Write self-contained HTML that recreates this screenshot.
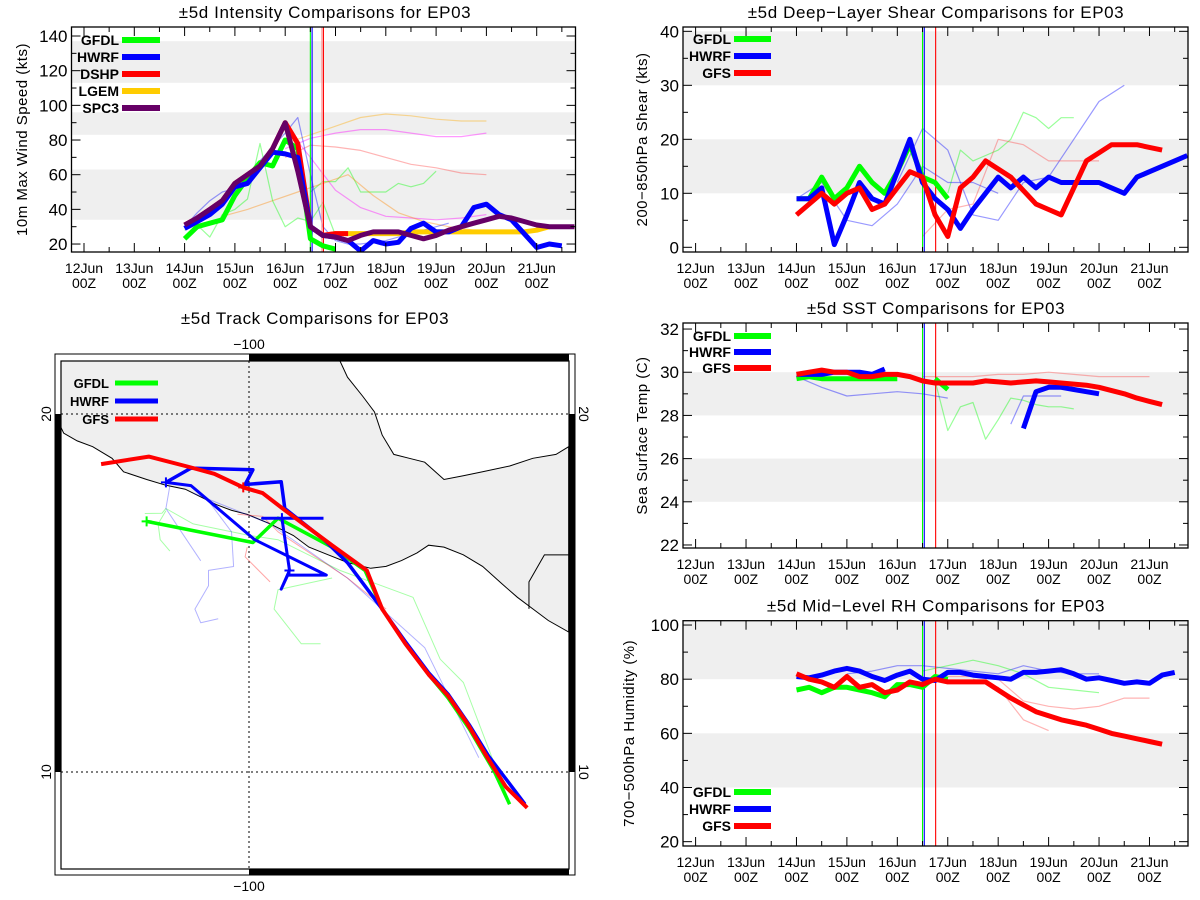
<!DOCTYPE html>
<html><head><meta charset="utf-8">
<style>
html,body{margin:0;padding:0;background:#fff;}
svg{display:block;font-family:"Liberation Sans",sans-serif;}
</style></head>
<body>
<svg id="fig" width="1200" height="900" viewBox="0 0 1200 900" xmlns="http://www.w3.org/2000/svg">
<rect x="0" y="0" width="1200" height="900" fill="#fff"/>
</svg>
<script>
// ---------- shared categories ----------
const dayLabels = ["12Jun","13Jun","14Jun","15Jun","16Jun","17Jun","18Jun","19Jun","20Jun","21Jun"];
const hourLabel = "00Z";
const initTimes = [4.5, 4.535, 4.76]; // GFDL, HWRF, GFS/DSHP init lines (days from 12Jun00Z)

// ---------- Intensity ----------
const intTicks = [20,40,60,80,100,120,140];
const intBands = [[34,63],[83,96],[113,137]];
const intGfdlStart = 2.0;
const intGfdl = [23,30,32,34,48,58,67,65,80,75,23,19,17];
const intHwrfStart = 2.0;
const intHwrf = [29,33,37,43,53,55,64,73,72,70,30,25,24,22,16,22,20,21,29,32,27,27,30,41,43,37,34,26,18,20,19];
const intDshpStart = 2.0;
const intDshp = [31,35,40,45,55,60,65,75,90,78,30,25,26,26];
const intLgemStart = 4.75;
const intLgem = [25,26,26,26,26,26,26,27,27,27,27,27,27,27,27,27,27,28,30];
const intSpc3Start = 2.0;
const intSpc3 = [31,35,40,45,55,60,65,75,90,62,30,25,24,22,25,27,27,27,25,23,25,28,30,32,34,36,35,33,31,30,30,30];
const intThinMagA = [75,81,84,86,86,84,82,82,84];
const intThinYelA = [78,83,88,93,95,94,92,91,91];
const intThinPinkA = [70,77,76,74,70,66,64,61,60];
const intThinMagB = [88,70,51,41,36,35,34,35,37];
const intThinGreenA = [50,56,56,64,50,50,50,55,53,55,62];
const intThinOrangeA = [36,40,45,50,55,60,48,38,33,30,28,27];
const intThinBlueA = [30,38,45,50,52,60,68,76,84,93,60,30,22,20,20,21,22,24,26,28,30,32];
const intThinGreenB = [28,31,24,37,40,46,78,45,30,35,33,44,25];

// ---------- Shear ----------
const shrTicks = [0,10,20,30,40];
const shrBands = [[10,20],[30,40]];
const shrGfdl = [9,9,13,9,11,15,12,10,14,19,13,12,9];
const shrHwrf = [9,9,11,0.5,6,12,9,8,14,20,12,9,7,3.5,7,10,13,11,13,11,13,12,12,12,12,11,10,13,14,15,16,17];
const shrGfs = [6,8,10,8,10,11,7,8,11,14,13,6,2,11,13,16,14.5,13,10.5,8,7,6,11,16,17.5,19,19,19,18.5,18];
const shrThinBlueA = [12,22,18,6,5,12,13,20,27,30];
const shrThinGreenA = [10,18,16,17,18,20,25,24,22,24,24];
const shrThinPinkA = [2,7,8,20,19,16,16,16];
const shrThinBlueB = [9,12,5,4,8,15,12,12,10];

// ---------- SST ----------
const sstTicks = [22,24,26,28,30,32];
const sstBands = [[28,30],[24,26]];
const sstGfdl = [29.7,29.8,29.7,29.7,29.7,29.7,29.7,29.7,29.7];
const sstGfdl2 = [29.7,29.2];
const sstHwrf = [29.9,29.9,29.9,30.0,30.0,30.0,29.9,30.15];
const sstHwrf2 = [27.4,29.1,29.3,29.3,29.2,29.1,29.0];
const sstGfs = [29.9,30.0,30.1,30.0,30.0,29.8,29.8,29.9,29.9,29.8,29.6,29.5,29.5,29.5,29.5,29.6,29.55,29.5,29.55,29.6,29.55,29.5,29.45,29.4,29.3,29.15,29.0,28.8,28.65,28.5];
const sstThinGreenA = [29.6,27.3,28.4,28.6,26.9,27.8,28.8,28.7,28.5,28.4,28.4,28.3];
const sstThinBlueA = [29.8,29.3,28.9,29.0,29.1,29.0,28.8];
const sstThinBlueB = [27.6,28.9,28.9,28.9,28.9];
const sstThinPinkA = [29.8,29.8,29.8,29.9,29.9,30.0,29.9,29.8,29.8,29.8];

// ---------- RH ----------
const rhTicks = [20,40,60,80,100];
const rhBands = [[80,102],[40,60]];
const rhGfdl = [76,77,75,77,77,76,75,73.5,78,78,77,81,80];
const rhHwrf = [81,80.5,81.5,83,84,83,81,79.5,81.5,83,80,79.5,82.5,82.5,81.5,81,80.5,80,82.5,82.5,83,83.5,82,80,80.5,79.5,78.5,79,78.5,81.5,82.5];
const rhGfs = [82,80,79,77,81,77,78,75,76,79,78,80,79,79,79,79,76,73,70.5,68,66.5,65,64,63,61.5,60,59,58,57,56];
const rhThinPinkA = [81,81,80,72,70,69,70,73,73];
const rhThinPinkB = [80,77,65,61];
const rhThinBlueA = [82,83,85,85,84,83,82,85,83,82,82];
const rhThinGreenA = [83,85,87,85,82,77,76,75];

// ---------- Track (lon, lat) ----------
const trkGfsLon = [-104.13,-102.80,-101.67,-100.97,-100.16,-99.62,-98.98,-97.68,-96.71,-96.28,-95.63,-94.98,-94.44,-93.91,-93.37,-92.83,-92.23];
const trkGfsLat = [18.60,18.81,18.52,18.33,17.95,17.79,17.30,16.33,15.63,14.55,13.58,12.72,12.13,11.37,10.45,9.59,9.00];
const trkHwrfLon = [-102.32,-101.62,-99.89,-100.11,-99.10,-99.00,-97.90,-97.25,-96.28,-95.63,-94.98,-94.44,-93.85,-93.31,-92.29];
const trkHwrfLat = [18.09,18.49,18.44,18.03,18.11,17.36,16.49,15.85,14.55,13.64,12.77,12.18,11.32,10.45,9.10];
const trkHwrf2Lon = [-102.32,-101.62,-99.84,-97.84,-98.92,-99.10,-98.87,-99.08,-99.62,-97.92];
const trkHwrf2Lat = [18.09,18.00,16.49,15.50,15.50,15.11,15.63,17.09,17.09,17.09];
const trkGfdlLon = [-102.86,-99.89,-99.19,-97.68,-96.76,-96.28,-95.63,-94.98,-94.44,-93.85,-93.15,-92.72];
const trkGfdlLat = [17.00,16.41,17.09,16.28,15.63,14.55,13.58,12.72,12.07,11.21,10.02,9.10];
const trkThinGreen1Lon = [-102.91,-102.43,-102.32,-101.56,-99.95,-99.19,-97.46,-95.42,-94.66,-94.01,-93.15,-92.72];
const trkThinGreen1Lat = [17.22,17.23,17.36,16.93,16.60,16.49,15.63,14.88,13.15,12.50,10.24,9.16];
const trkThinGreen2Lon = [-97.68,-99.19,-99.30,-98.54,-98.00];
const trkThinGreen2Lat = [15.42,15.09,14.55,13.58,13.58];
const trkThinGreen3Lon = [-102.32,-102.54,-102.48,-102.21];
const trkThinGreen3Lat = [17.30,16.93,16.49,16.17];
const trkThinBlue1Lon = [-102.21,-102.32,-101.89,-101.35];
const trkThinBlue1Lat = [18.00,17.36,16.71,15.90];
const trkThinBlue2Lon = [-101.13,-100.49,-100.43,-101.13,-101.13,-101.51,-101.35,-100.86];
const trkThinBlue2Lat = [17.57,16.71,15.74,15.63,15.20,14.55,14.17,14.28];
const trkThinBlue3Lon = [-101.56,-99.41,-97.25,-95.09,-93.58];
const trkThinBlue3Lat = [17.79,16.93,15.42,13.47,10.40];
const trkThinPink1Lon = [-100.32,-99.62,-99.19,-97.25,-96.17];
const trkThinPink1Lat = [17.20,17.14,16.71,15.42,14.55];
const trkThinPink2Lon = [-100.05,-100.11,-99.41];
const trkThinPink2Lat = [16.28,16.01,15.31];

// ================= drawing =================
const NS = "http://www.w3.org/2000/svg";
const svg = document.getElementById('fig');
function mk(tag, attrs, parent){
  const e = document.createElementNS(NS, tag);
  for (const k in attrs) e.setAttribute(k, attrs[k]);
  (parent||svg).appendChild(e);
  return e;
}
function txt(s, attrs, parent){ const e = mk('text', attrs, parent); e.textContent = s; return e; }

const GREEN="#00ff00", BLUE="#0000ff", RED="#ff0000", GOLD="#ffcc00", PURP="#660066";

function panel(P){
  const g = mk('g', {});
  
  
  const X = t => P.x0 + t * P.dx;
  const Y = v => P.b - (v - P.ymin) / (P.ymax - P.ymin) * (P.b - P.t);
  const clipId = P.name + '-clip';
  const cp = mk('clipPath', {id: clipId}, g);
  mk('rect', {x:P.l, y:P.t, width:P.r-P.l, height:P.b-P.t}, cp);
  P.bands.forEach(bd => {
    const y1 = Math.max(P.t, Y(bd[1])), y2 = Math.min(P.b, Y(bd[0]));
    const r = mk('rect', {x:P.l, y:y1, width:P.r-P.l, height:y2-y1, fill:'#efefef'}, g);
    
    
  });
  const lines = mk('g', {'clip-path':'url(#'+clipId+')'}, g);
  function series(vals, start, step, color, w, op, nm){
    const d = vals.map((v,i) => (i?'L':'M') + X(start + i*step).toFixed(1) + ' ' + Y(v).toFixed(1)).join(' ');
    const p = mk('path', {d, fill:'none', stroke:color, 'stroke-width':w, 'stroke-opacity':op, 'stroke-linejoin':'round'}, lines);
    
    
  }
  P.thin.forEach(s => series(s[0], s[1], s[2], s[3], 1.2, 0.4, 'ensemble-trace'));
  const vcols = [GREEN, BLUE, RED];
  initTimes.forEach((t,i) => {
    const ln = mk('line', {x1:X(t), x2:X(t), y1:P.t, y2:P.b, stroke:vcols[i], 'stroke-width':1.1}, lines);
    
    
  });
  if (P.extraPink) {
    const ln = mk('line', {x1:X(initTimes[2])-1.5, x2:X(initTimes[2])-1.5, y1:P.t, y2:P.b, stroke:'#ff9999', 'stroke-width':1.2}, lines);
    
    
  }
  P.thick.forEach(s => series(s[0], s[1], 0.25, s[2], 5, 1, s[3]));
  const fr = mk('rect', {x:P.l, y:P.t, width:P.r-P.l, height:P.b-P.t, fill:'none', stroke:'#000', 'stroke-width':1.3}, g);
  
  
  for (let v = P.ymin0; v <= P.ymax + 1e-6; v += P.minor) {
    if (v < P.ymin) continue;
    const yy = Y(v); const isMaj = P.yticks.some(tv => Math.abs(tv - v) < 1e-6);
    const L = isMaj ? 9 : 5;
    mk('line', {x1:P.l, x2:P.l+L, y1:yy, y2:yy, stroke:'#000'}, g);
    mk('line', {x1:P.r, x2:P.r-L, y1:yy, y2:yy, stroke:'#000'}, g);
  }
  P.yticks.forEach(v => {
    const t = txt(String(v), {x:P.l-4, y:Y(v)+6, 'text-anchor':'end', 'font-size':17}, g);
    
    
  });
  for (let t = 0; t <= (P.r - P.x0)/P.dx; t += 0.5) {
    const xx = X(t); if (xx < P.l || xx > P.r) continue;
    const L = (t % 1 === 0) ? 9 : 5;
    mk('line', {x1:xx, x2:xx, y1:P.b, y2:P.b-L, stroke:'#000'}, g);
    mk('line', {x1:xx, x2:xx, y1:P.t, y2:P.t+L, stroke:'#000'}, g);
  }
  for (let t = -0.5; t >= (P.l - P.x0)/P.dx; t -= 0.5) {
    const xx = X(t);
    mk('line', {x1:xx, x2:xx, y1:P.b, y2:P.b-5, stroke:'#000'}, g);
    mk('line', {x1:xx, x2:xx, y1:P.t, y2:P.t+5, stroke:'#000'}, g);
  }
  dayLabels.forEach((s,i) => {
    const a = txt(s, {x:X(i), y:P.b+21, 'text-anchor':'middle', 'font-size':14}, g);
    
    
    const b = txt(hourLabel, {x:X(i), y:P.b+36, 'text-anchor':'middle', 'font-size':14}, g);
    
    
  });
  const ti = txt(P.title, {x:P.titleX, y:P.t-9, 'text-anchor':'middle', 'font-size':17, 'letter-spacing':'0.6'}, g);
  
  
  const cy = (P.t + P.b)/2;
  const yt = txt(P.ytitle, {x:P.ytx, y:cy, 'text-anchor':'middle', 'font-size':15, 'letter-spacing':'0.5', transform:'rotate(-90 '+P.ytx+' '+cy+')'}, g);
  
  
  P.legend.forEach((e,i) => {
    const yy = P.legY + i*P.legDy;
    const lt = txt(e[0], {x:P.legTx, y:yy+5, 'text-anchor':'end', 'font-size':14, 'font-weight':'bold'}, g);
    
    
    const ls = mk('line', {x1:P.legX1, x2:P.legX2, y1:yy, y2:yy, stroke:e[1], 'stroke-width':6}, g);
    
    
  });
}

panel({name:'intensity-chart', l:71.5, r:575.5, t:27, b:252, x0:84, dx:50.3, ymin:15.4, ymax:145.2, ymin0:20, minor:10,
  yticks:intTicks, bands:intBands, title:'±5d Intensity Comparisons for EP03', titleX:325,
  ytitle:'10m Max Wind Speed (kts)', ytx:27, extraPink:true,
  thin:[[intThinMagA,4.0,0.5,'#ff00ff'],[intThinYelA,4.0,0.5,'#ffaa00'],[intThinPinkA,4.0,0.5,'#ff4444'],
        [intThinMagB,4.0,0.5,'#ff00ff'],[intThinGreenA,4.5,0.25,GREEN],[intThinOrangeA,2.75,0.5,'#ff8800'],
        [intThinBlueA,2.0,0.25,BLUE],[intThinGreenB,2.0,0.25,GREEN]],
  thick:[[intGfdl,intGfdlStart,GREEN,'gfdl-line'],[intLgem,intLgemStart,GOLD,'lgem-line'],[intDshp,intDshpStart,RED,'dshp-line'],
         [intHwrf,intHwrfStart,BLUE,'hwrf-line'],[intSpc3,intSpc3Start,PURP,'spc3-line']],
  legend:[['GFDL',GREEN],['HWRF',BLUE],['DSHP',RED],['LGEM',GOLD],['SPC3',PURP]],
  legY:40, legDy:17, legTx:119, legX1:122, legX2:160});

const rightCommon = {l:683, r:1188, x0:695.6, dx:50.43, titleX:936, legTx:731, legX1:734, legX2:771};
panel(Object.assign({}, rightCommon, {name:'shear-chart', t:27, b:252, ymin:-0.87, ymax:40.8, ymin0:0, minor:5,
  yticks:shrTicks, bands:shrBands, title:'±5d Deep−Layer Shear Comparisons for EP03',
  ytitle:'200−850hPa Shear (kts)', ytx:647,
  thin:[[shrThinBlueA,4.0,0.5,BLUE],[shrThinGreenA,5.0,0.25,GREEN],[shrThinPinkA,4.5,0.5,'#ff4444'],[shrThinBlueB,2.0,0.5,BLUE]],
  thick:[[shrGfdl,2.0,GREEN,'gfdl-line'],[shrHwrf,2.0,BLUE,'hwrf-line'],[shrGfs,2.0,RED,'gfs-line']],
  legend:[['GFDL',GREEN],['HWRF',BLUE],['GFS',RED]], legY:39, legDy:17}));
panel(Object.assign({}, rightCommon, {name:'sst-chart', t:323, b:548, ymin:21.86, ymax:32.28, ymin0:22, minor:1,
  yticks:sstTicks, bands:sstBands, title:'±5d SST Comparisons for EP03',
  ytitle:'Sea Surface Temp (C)', ytx:647,
  thin:[[sstThinGreenA,4.75,0.25,GREEN],[sstThinBlueA,2.0,0.5,BLUE],[sstThinBlueB,6.25,0.25,BLUE],[sstThinPinkA,4.5,0.5,'#ff4444']],
  thick:[[sstGfdl,2.0,GREEN,'gfdl-line'],[sstGfdl2,4.75,GREEN,'gfdl-line'],[sstHwrf,2.0,BLUE,'hwrf-line'],[sstHwrf2,6.5,BLUE,'hwrf-line'],[sstGfs,2.0,RED,'gfs-line']],
  legend:[['GFDL',GREEN],['HWRF',BLUE],['GFS',RED]], legY:336, legDy:16}));
panel(Object.assign({}, rightCommon, {name:'rh-chart', t:620.7, b:846, ymin:18.4, ymax:101.6, ymin0:20, minor:10,
  yticks:rhTicks, bands:rhBands, title:'±5d Mid−Level RH Comparisons for EP03',
  ytitle:'700−500hPa Humidity (%)', ytx:634,
  thin:[[rhThinPinkA,5.0,0.5,'#ff4444'],[rhThinPinkB,5.5,0.5,'#ff4444'],[rhThinBlueA,3.0,0.5,BLUE],[rhThinGreenA,4.5,0.5,GREEN]],
  thick:[[rhGfdl,2.0,GREEN,'gfdl-line'],[rhHwrf,2.0,BLUE,'hwrf-line'],[rhGfs,2.0,RED,'gfs-line']],
  legend:[['GFDL',GREEN],['HWRF',BLUE],['GFS',RED]], legY:792, legDy:17}));

(function(){
  const g = mk('g', {});
  
  
  const K = 35.8;
  const LX = lon => 249 + (lon + 100) * K;
  const LY = lat => 414 - (lat - 20) * K;
  const IL=61, IR=569, IT=361, IB=869;
  const cp = mk('clipPath', {id:'map-clip'}, g);
  mk('rect', {x:IL, y:IT, width:IR-IL, height:IB-IT}, cp);
  const of = mk('rect', {x:55, y:354, width:520, height:521, fill:'none', stroke:'#000', 'stroke-width':1}, g);
  
  
  [[249,354,IR-249,7],[249,IB,IR-249,6],[55,414,6,358],[IR,414,6,358]].forEach(b => {
    const r = mk('rect', {x:b[0], y:b[1], width:b[2], height:b[3], fill:'#000'}, g);
    
    
  });
  const inner = mk('g', {'clip-path':'url(#map-clip)'}, g);
  const s = 2.59;
  const landZ = [[158,157],[880,157],[900,200],[940,250],[970,290],[990,350],[1020,400],[1060,410],[1100,420],[1150,465],[1200,455],[1250,445],[1320,430],[1380,410],[1440,400],[1473,380],
    [1473,860],[1420,830],[1380,800],[1340,770],[1300,735],[1250,690],[1200,660],[1150,640],[1110,635],[1080,655],[1040,675],[1000,690],[960,695],[900,680],[850,660],[800,640],[760,610],[700,580],[640,555],[600,545],[560,530],[520,510],[480,490],[430,480],[380,465],[320,445],[290,410],[240,380],[200,365],[165,345],[158,330]];
  const land = mk('path', {d: landZ.map((p,i)=>(i?'L':'M')+(p[0]/s).toFixed(1)+' '+(p[1]/s+300).toFixed(1)).join(' ')+'Z', fill:'#efefef', stroke:'#000', 'stroke-width':1}, inner);
  
  
  const border = mk('path', {d:'M'+(1473/s)+' '+(660/s+300)+' L'+(1410/s)+' '+(660/s+300)+' L'+(1370/s)+' '+(730/s+300)+' L'+(1370/s)+' '+(800/s+300), fill:'none', stroke:'#000', 'stroke-width':1}, inner);
  
  
  [[LX(-100),IT,LX(-100),IB],[IL,LY(20),IR,LY(20)],[IL,LY(10),IR,LY(10)]].forEach(l => {
    const ln = mk('line', {x1:l[0], y1:l[1], x2:l[2], y2:l[3], stroke:'#000', 'stroke-width':1, 'stroke-dasharray':'2,3'}, inner);
    
    
  });
  function track(lons, lats, color, w, op, nm){
    const d = lons.map((lo,i)=>(i?'L':'M')+LX(lo).toFixed(1)+' '+LY(lats[i]).toFixed(1)).join(' ');
    const p = mk('path', {d, fill:'none', stroke:color, 'stroke-width':w, 'stroke-opacity':op, 'stroke-linejoin':'round'}, inner);
    
    
  }
  function cross(lon, lat, color){
    const x = LX(lon), y = LY(lat);
    const c = mk('path', {d:'M'+(x-5)+' '+y+' H'+(x+5)+' M'+x+' '+(y-5)+' V'+(y+5), stroke:color, 'stroke-width':2}, inner);
    
    
  }
  track(trkThinGreen1Lon, trkThinGreen1Lat, GREEN, 1, 0.35, 'ensemble-track');
  track(trkThinGreen2Lon, trkThinGreen2Lat, GREEN, 1, 0.35, 'ensemble-track');
  track(trkThinGreen3Lon, trkThinGreen3Lat, GREEN, 1, 0.35, 'ensemble-track');
  track(trkThinBlue1Lon, trkThinBlue1Lat, BLUE, 1, 0.3, 'ensemble-track');
  track(trkThinBlue2Lon, trkThinBlue2Lat, BLUE, 1, 0.3, 'ensemble-track');
  track(trkThinBlue3Lon, trkThinBlue3Lat, BLUE, 1, 0.3, 'ensemble-track');
  track(trkThinPink1Lon, trkThinPink1Lat, RED, 1, 0.35, 'ensemble-track');
  track(trkThinPink2Lon, trkThinPink2Lat, RED, 1, 0.35, 'ensemble-track');
  track(trkGfdlLon, trkGfdlLat, GREEN, 3.5, 1, 'gfdl-track');
  track(trkHwrf2Lon, trkHwrf2Lat, BLUE, 3, 1, 'hwrf-track');
  track(trkHwrfLon, trkHwrfLat, BLUE, 3.5, 1, 'hwrf-track');
  track(trkGfsLon, trkGfsLat, RED, 4, 1, 'gfs-track');
  cross(trkGfdlLon[0], trkGfdlLat[0], GREEN);
  cross(trkHwrfLon[0], trkHwrfLat[0], BLUE);
  cross(trkHwrf2Lon[7], trkHwrf2Lat[7], BLUE);
  cross(trkHwrf2Lon[6], trkHwrf2Lat[6], BLUE);
  cross(trkGfsLon[4], trkGfsLat[4], RED);
  const fr = mk('rect', {x:IL, y:IT, width:IR-IL, height:IB-IT, fill:'none', stroke:'#000', 'stroke-width':1.2}, g);
  
  
  const title = txt('±5d Track Comparisons for EP03', {x:315, y:324, 'text-anchor':'middle', 'font-size':17, 'letter-spacing':'0.6'}, g);
  
  
  [['−100',LX(-100),349],['−100',LX(-100),891]].forEach(a => {
    const t = txt(a[0], {x:a[1], y:a[2], 'text-anchor':'middle', 'font-size':14}, g);
    
    
  });
  [[20,LY(20)],[10,LY(10)]].forEach(a => {
    const t1 = txt(String(a[0]), {x:51, y:a[1], 'text-anchor':'middle', 'font-size':14, transform:'rotate(-90 51 '+a[1]+')'}, g);
    
    
    const t2 = txt(String(a[0]), {x:579, y:a[1], 'text-anchor':'middle', 'font-size':14, transform:'rotate(90 579 '+a[1]+')'}, g);
    
    
  });
  [['GFDL',GREEN],['HWRF',BLUE],['GFS',RED]].forEach((e,i) => {
    const yy = 383 + i*18;
    const lt = txt(e[0], {x:109, y:yy+5, 'text-anchor':'end', 'font-size':13, 'font-weight':'bold'}, g);
    
    
    const ls = mk('line', {x1:115, x2:158, y1:yy, y2:yy, stroke:e[1], 'stroke-width':5}, g);
    
    
  });
})();
</script>
</body></html>
